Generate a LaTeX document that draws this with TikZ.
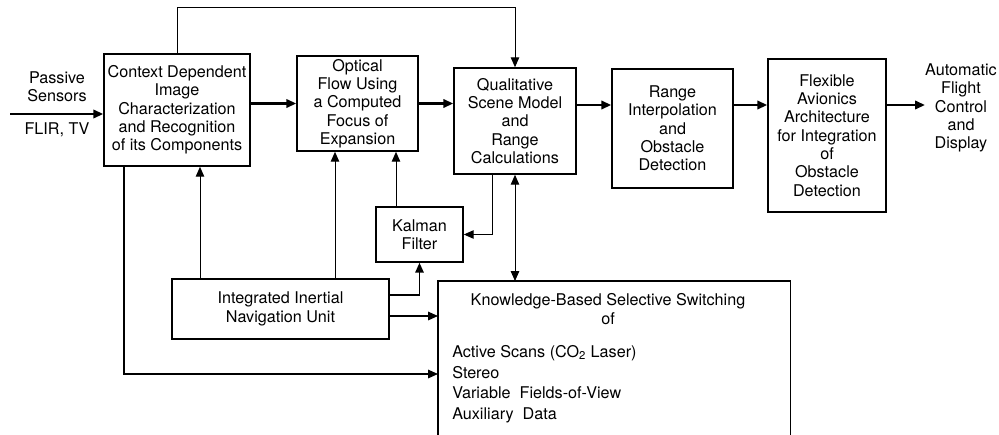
\documentclass[tikz,border=0pt]{standalone}
\usepackage{fontspec}
\setmainfont{TeX Gyre Heros}
\usetikzlibrary{positioning}
\usetikzlibrary{arrows.meta}

\tikzset{
  box/.style={draw, line width=1.1pt, align=center},
  wire/.style={line width=0.7pt},
  feed/.style={line width=1pt},
  mainline/.style={line width=1.5pt},
  >={Triangle[length=7pt,width=6pt]}
}

\begin{document}
\begin{tikzpicture}[every node/.style={inner sep=0pt,font=\fontsize{11.5}{13}\selectfont},x=0.025cm,y=-0.025cm]
\useasboundingbox (0,0) rectangle (999,434);

% helper points
\coordinate (top) at (0,7);
\coordinate (flow) at (0,105);
\coordinate (src) at (10,114);
\coordinate (ia) at (200,0);
\coordinate (ib) at (335,0);
\coordinate (kb) at (396,0);
\coordinate (ck) at (492,0);
\coordinate (ik) at (0,295);
\coordinate (is) at (0,316);
\coordinate (as) at (124,374);

% boxes
\node[box,minimum width=3.65cm,minimum height=2.8cm] (ctx) at (177,110) {Context Dependent\\Image\\Characterization\\and Recognition\\of its Components};
\node[box,minimum width=3.025cm,minimum height=2.375cm] (flo) at (357.5,103.5) {Optical\\Flow Using\\a Computed\\Focus of\\Expansion};
\node[box,minimum width=3.05cm,minimum height=2.65cm] (qual) at (515,121) {Qualitative\\Scene Model\\and\\Range\\Calculations};
\node[box,minimum width=3.025cm,minimum height=2.975cm] (rng) at (672.5,128.5) {Range\\Interpolation\\and\\Obstacle\\Detection};
\node[box,minimum width=2.95cm,minimum height=3.825cm] (avi) at (827,135.5) {Flexible\\Avionics\\Architecture\\for Integration\\of\\Obstacle\\Detection};
\node[box,minimum width=2.175cm,minimum height=1.375cm] (kal) at (419.5,234.5) {Kalman\\Filter};
\node[box,minimum width=5.425cm,minimum height=1.5cm] (inu) at (280.5,309) {Integrated Inertial\\Navigation Unit};

% switching box, open at the bottom
\node[minimum width=8.8cm,minimum height=3.975cm,anchor=north west] (sw) at (438,281) {};
\draw[line width=1.1pt] (sw.south west) -- (sw.north west) -- (sw.north east) -- (sw.south east);
\node[align=center] (swtitle) at (608,309) {Knowledge-Based Selective Switching\\of};
\node[anchor=north west,align=left,font=\fontsize{11.5}{14.7}\selectfont] (swlist) at (452,345)
  {Active Scans (CO\textsubscript{2} Laser)\\Stereo\\Variable~~Fields-of-View\\Auxiliary~~Data};

% texts outside
\node[align=center] (pas) at (57,87) {Passive\\Sensors};
\node (flir) at (57,130) {FLIR, TV};
\node[align=center] (out) at (961,108) {Automatic\\Flight\\Control\\and\\Display};

% main flow
\draw[mainline,->] (src) -- (src -| ctx.west);
\draw[mainline,->] (flo.west -| ctx.east) -- (flo.west);
\draw[mainline,->] (flo.east) -- (flo.east -| qual.west);
\draw[mainline,->] (qual.east |- flow) -- (rng.west |- flow);
\draw[mainline,->] (rng.east |- flow) -- (avi.west |- flow);
\draw[mainline,->] (avi.east |- flow) -- (out.west |- flow);
\draw[wire,->] (ctx.north) -- (ctx.north |- top) -| (qual.north);

% feedback and side paths
\draw[wire,->] (inu.north -| ia) -- (ctx.south -| ia);
\draw[wire,->] (inu.north -| ib) -- (flo.south -| ib);
\draw[wire,->] (kal.north -| kb) -- (flo.south -| kb);
\draw[wire,->] (qual.south -| ck) |- (kal.east);
\draw[feed,->] (inu.east |- ik) -| (kal.south);
\draw[feed,->] (inu.east |- is) -- (sw.west |- is);
\draw[wire,<->] (qual.south) -- (qual.south |- sw.north);
\draw[feed,->] (ctx.south -| as) |- (sw.west |- as);
\end{tikzpicture}
\end{document}
